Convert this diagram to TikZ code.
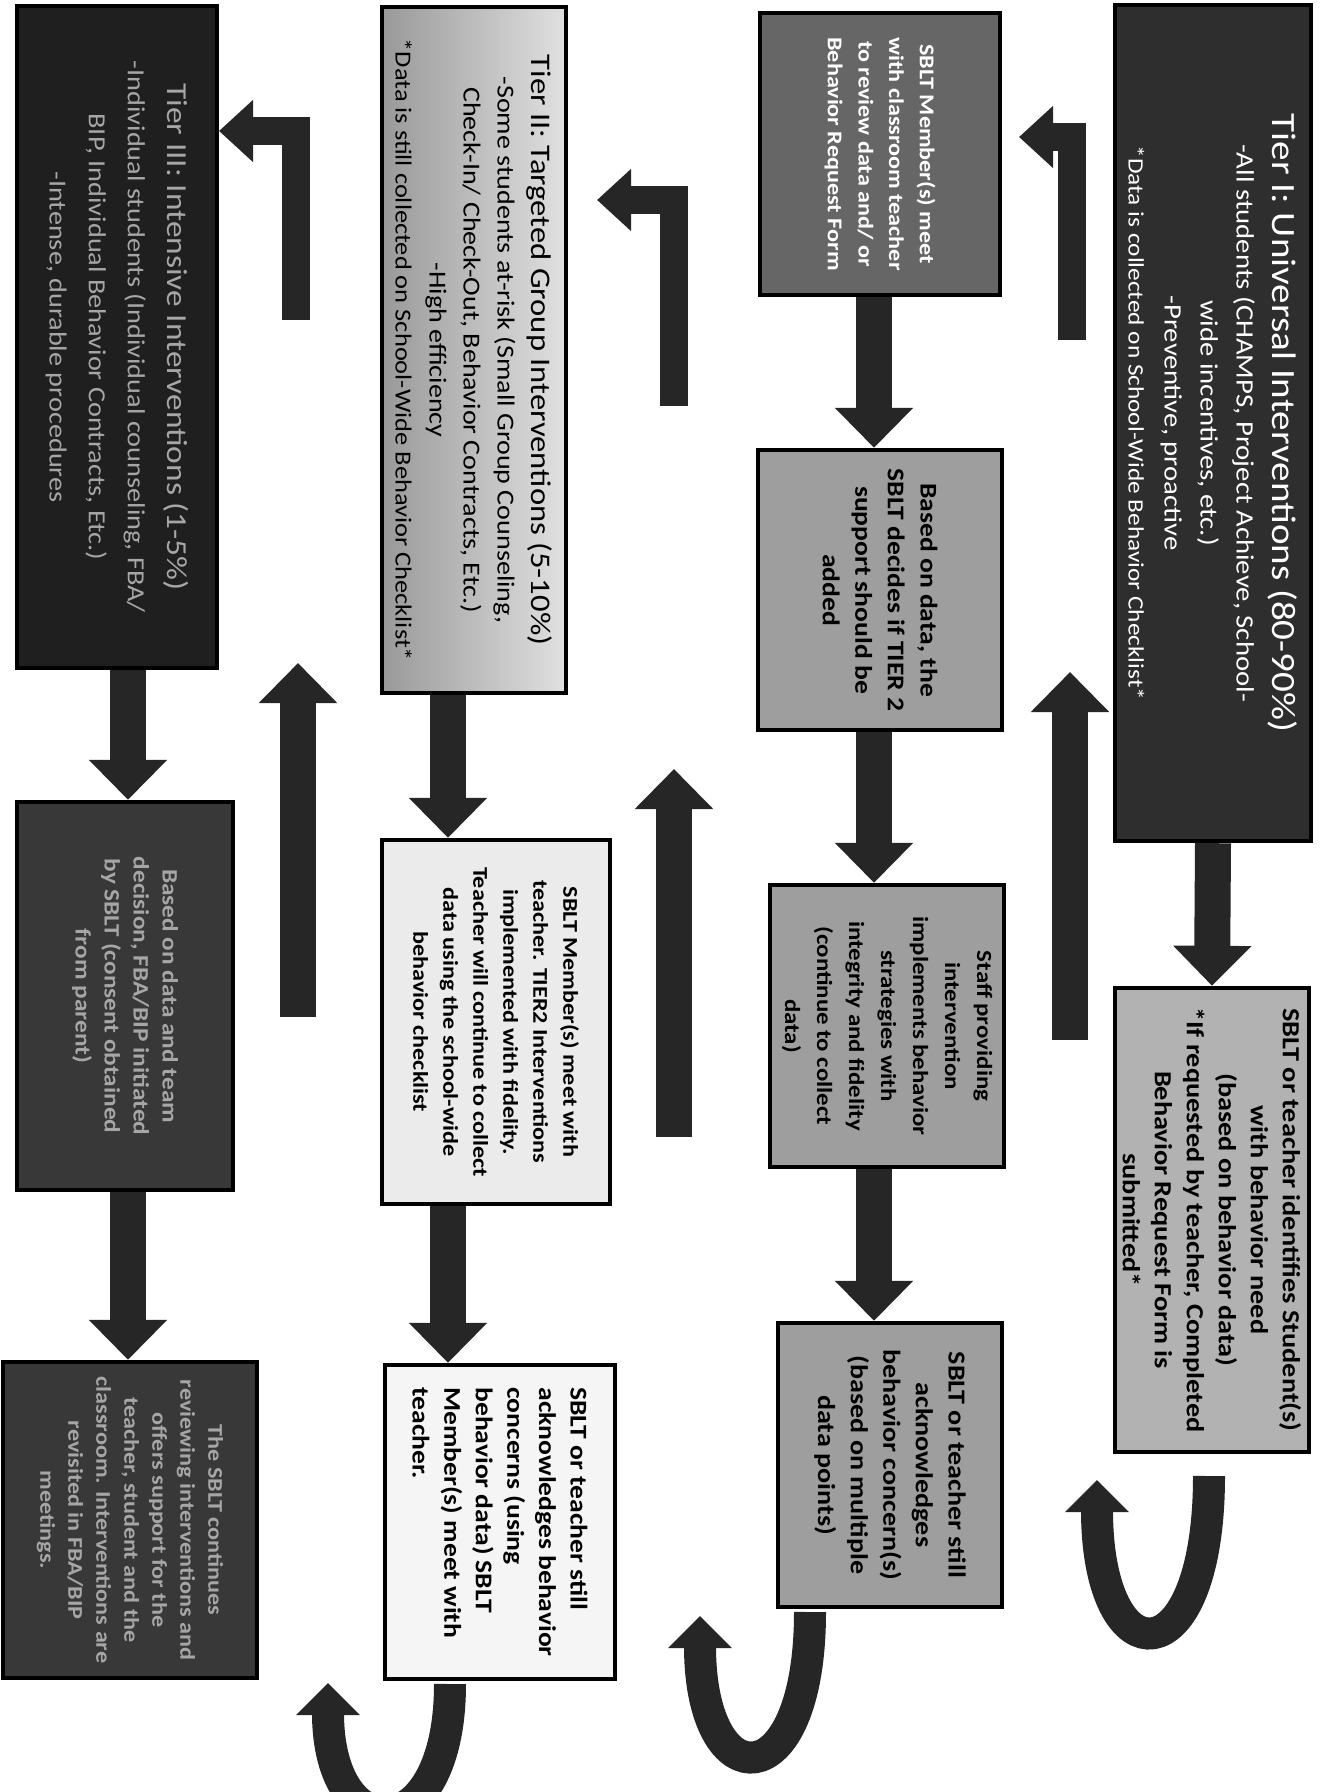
\documentclass[tikz,border=0pt]{standalone}
\usepackage{fontspec}
\setmainfont[FakeStretch=1.15]{Carlito}
\usetikzlibrary{arrows.meta}
\newcommand{\boxsize}[2]{\fontsize{#1}{#2}\selectfont}

\begin{document}
\begin{tikzpicture}[x=0.5pt,y=-0.5pt,
    box/.style 2 args={draw=black,line width=2.2pt,rotate=-90,align=center,
        inner sep=2pt,font=\bfseries\boxsize{#1}{#2}},
    tierbox/.style 2 args={box={#1}{#2},font=\mdseries\boxsize{#1}{#2}},
    flow/.style={draw=black!85,line width=18pt,
        -{Triangle[length=20pt,width=38pt]}},
    elbow/.style={draw=black!85,line width=14pt,
        -{Triangle[length=17pt,width=30pt]}},
    uturn/.style={draw=black!85,line width=16pt,
        -{Triangle[length=16pt,width=31pt]}}]

    \useasboundingbox (0,0) rectangle (1327,1792);

    % Column of Tier I.
    \node[tierbox={12.5}{18},fill=black!82,text=white,
        minimum width=418pt,minimum height=98pt] (tierone) at (1213,423)
        {{\boxsize{17}{18}Tier I: Universal Interventions (80-90\%)}\\
         -All students (CHAMPS, Project Achieve, School-\\
         wide incentives, etc.)\\
         -Preventive, proactive\\
         {\boxsize{11}{18}*Data is collected on School-Wide Behavior Checklist*}};
    \node[box={12.3}{16},fill=black!30,
        minimum width=232pt,minimum height=97pt] (identify) at (1212,1220)
        {SBLT or teacher identifies Student(s)\\
         with behavior need\\
         (based on behavior data)\\
         *If requested by teacher, Completed\\
         Behavior Request Form is\\
         submitted*};
    \draw[flow] (tierone.east) -- (identify.west);
    \coordinate (u1a) at (1209,1476);
    \coordinate (u1b) at (1097,1480);
    \draw[uturn] (u1a) .. controls (1209,1680) and (1097,1680) .. (u1b);

    % Column of Tier II referral.
    \coordinate (colc) at (874,0);
    \node[box={10.5}{15.3},fill=black!60,text=white,
        minimum width=141pt,minimum height=120pt] (review) at (880,154)
        {SBLT Member(s) meet\\
         with classroom teacher\\
         to review data and/ or\\
         Behavior Request Form};
    \node[box={12}{16.3},fill=black!38,
        minimum width=140pt,minimum height=122pt] (decide) at (880,590)
        {Based on data, the\\
         SBLT decides if TIER 2\\
         support should be\\
         added};
    \node[box={10.8}{16},fill=black!38,
        minimum width=141pt,minimum height=117pt] (staff) at (887,1026)
        {Staff providing\\
         intervention\\
         implements behavior\\
         strategies with\\
         integrity and fidelity\\
         (continue to collect\\
         data)};
    \node[box={12.2}{16.3},fill=black!38,
        minimum width=142pt,minimum height=112pt] (stillack) at (890,1465)
        {SBLT or teacher still\\
         acknowledges\\
         behavior concern(s)\\
         (based on multiple\\
         data points)};
    \draw[flow] (review.east -| colc) -- (decide.west -| colc);
    \draw[flow] (decide.east -| colc) -- (staff.west -| colc);
    \draw[flow] (staff.east -| colc) -- (stillack.west -| colc);
    \coordinate (e3a) at (1072,340);
    \coordinate (e3b) at (1019,137);
    \draw[elbow] (e3a) |- (e3b);
    \coordinate (v3a) at (1070,1040);
    \coordinate (v3b) at (1070,672);
    \draw[flow] (v3a) -- (v3b);
    \coordinate (u3a) at (810,1612);
    \coordinate (u3b) at (700,1616);
    \draw[uturn] (u3a) .. controls (810,1800) and (700,1800) .. (u3b);

    % Column of Tier II.
    \coordinate (colb) at (448,0);
    \node[tierbox={12.2}{17},left color=black!40,right color=black!12,
        minimum width=343pt,minimum height=92pt] (tiertwo) at (474,350)
        {{\boxsize{14.2}{17}Tier II: Targeted Group Interventions (5-10\%)}\\
         -Some students at-risk (Small Group Counseling,\\
         Check-In/ Check-Out, Behavior Contracts, Etc.)\\
         -High efficiency\\
         {\boxsize{11.5}{17}*Data is still collected on School-Wide Behavior Checklist*}};
    \node[box={10.5}{15},fill=black!8,
        minimum width=182pt,minimum height=114pt] (fidelity) at (496,1022)
        {SBLT Member(s) meet with\\
         teacher. TIER2 Interventions\\
         implemented with fidelity.\\
         Teacher will continue to collect\\
         data using the school-wide\\
         behavior checklist};
    \node[box={12}{15.8},fill=black!4,align=left,
        minimum width=157pt,minimum height=115pt] (concerns) at (500,1522)
        {SBLT or teacher still\\
         acknowledges behavior\\
         concerns (using\\
         behavior data) SBLT\\
         Member(s) meet with\\
         teacher.};
    \draw[flow] (tiertwo.east -| colb) -- (fidelity.west -| colb);
    \draw[flow] (fidelity.east -| colb) -- (concerns.west -| colb);
    \coordinate (e2a) at (674,406);
    \coordinate (e2b) at (597,200);
    \draw[elbow] (e2a) |- (e2b);
    \coordinate (v2a) at (674,1137);
    \coordinate (v2b) at (674,769);
    \draw[flow] (v2a) -- (v2b);
    \coordinate (u2a) at (450,1684);
    \coordinate (u2b) at (328,1683);
    \draw[uturn] (u2a) .. controls (450,1850) and (328,1850) .. (u2b);

    % Column of Tier III.
    \coordinate (cola) at (128,0);
    \node[tierbox={12.3}{19.6},fill=black!88,text=black!35,
        minimum width=331pt,minimum height=100pt] (tierthree) at (117,337)
        {{\boxsize{14.5}{19.6}Tier III: Intensive Interventions (1-5\%)}\\
         -Individual students (Individual counseling, FBA/\\
         BIP, Individual Behavior Contracts, Etc.)\\
         -Intense, durable procedures};
    \node[box={11}{14.5},fill=black!78,text=black!35,
        minimum width=194pt,minimum height=108pt] (fbabip) at (125,996)
        {Based on data and team\\
         decision, FBA/BIP initiated\\
         by SBLT (consent obtained\\
         from parent)};
    \node[box={10.5}{14},fill=black!78,text=black!35,
        minimum width=158pt,minimum height=127pt] (continues) at (130,1520)
        {The SBLT continues\\
         reviewing interventions and\\
         offers support for the\\
         teacher, student and the\\
         classroom. Interventions are\\
         revisited in FBA/BIP\\
         meetings.};
    \draw[flow] (tierthree.east -| cola) -- (fbabip.west -| cola);
    \draw[flow] (fbabip.east -| cola) -- (continues.west -| cola);
    \coordinate (e1a) at (296,320);
    \coordinate (e1b) at (219,131);
    \draw[elbow] (e1a) |- (e1b);
    \coordinate (v1a) at (298,1017);
    \coordinate (v1b) at (298,663);
    \draw[flow] (v1a) -- (v1b);
\end{tikzpicture}
\end{document}
